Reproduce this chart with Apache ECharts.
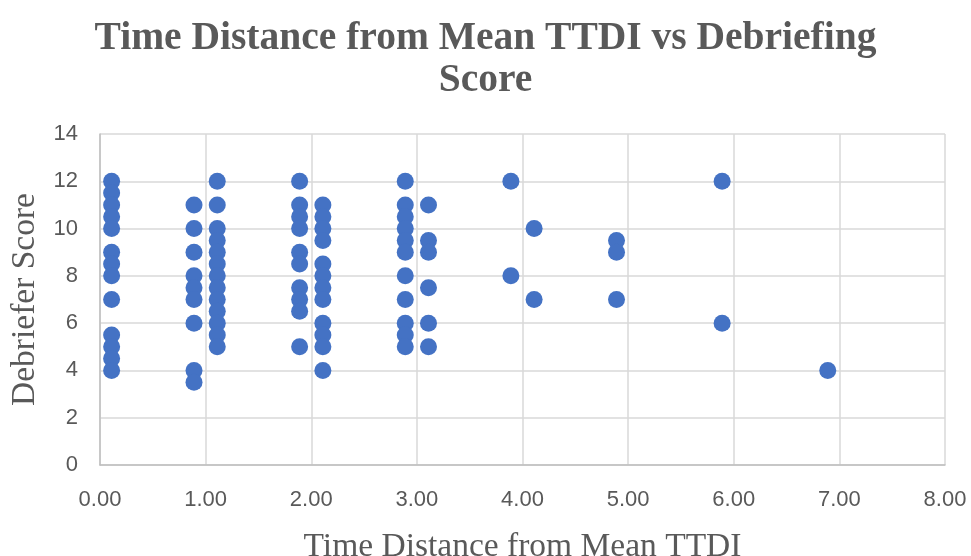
<!DOCTYPE html>
<html>
<head>
<meta charset="utf-8">
<script src="https://cdn.jsdelivr.net/npm/echarts@6/dist/echarts.min.js"></script>
<style>html,body{margin:0;padding:0;background:#fff;}#c{width:971px;height:556px;}</style>
</head>
<body>
<div id="c"></div>
<script>
const titleText = "Time Distance from Mean TTDI vs Debriefing\nScore";
const xAxisName = "Time Distance from Mean TTDI";
const yAxisName = "Debriefer Score";
const distances = [0.11, 0.89, 1.11, 1.89, 2.11, 2.89, 3.11, 3.89, 4.11, 4.89, 5.89, 6.89];
const scoresByDistance = [
  [12, 11.5, 11, 10.5, 10, 9, 8.5, 8, 7, 5.5, 5, 4.5, 4],
  [11, 10, 9, 8, 7.5, 7, 6, 4, 3.5],
  [12, 11, 10, 9.5, 9, 8.5, 8, 7.5, 7, 6.5, 6, 5.5, 5],
  [12, 11, 10.5, 10, 9, 8.5, 7.5, 7, 6.5, 5],
  [11, 10.5, 10, 9.5, 8.5, 8, 7.5, 7, 6, 5.5, 5, 4],
  [12, 11, 10.5, 10, 9.5, 9, 8, 7, 6, 5.5, 5],
  [11, 9.5, 9, 7.5, 6, 5],
  [12, 8],
  [10, 7],
  [9.5, 9, 7],
  [12, 6],
  [4]
];
const points = [];
distances.forEach((d, i) => scoresByDistance[i].forEach(s => points.push([d, s])));

const chart = echarts.init(document.getElementById('c'));
chart.setOption({
  animation: false,
  title: {
    text: titleText,
    left: 'center',
    top: 13,
    textStyle: {fontFamily: 'Liberation Serif', fontWeight: 'bold', fontSize: 39.5, color: '#595959', lineHeight: 42}
  },
  grid: {left: 100, right: 26, top: 134, bottom: 91, containLabel: false, outerBoundsMode: 'none'},
  xAxis: {
    type: 'value', min: 0, max: 8, interval: 1,
    name: xAxisName, nameLocation: 'middle', nameGap: 65,
    nameTextStyle: {fontFamily: 'Liberation Serif', fontSize: 33.5, color: '#595959'},
    axisLine: {show: true, lineStyle: {color: '#bfbfbf', width: 1.5}},
    axisTick: {show: false},
    axisLabel: {formatter: v => v.toFixed(2), fontFamily: 'Liberation Sans', fontSize: 22, color: '#595959', margin: 24},
    splitLine: {show: true, lineStyle: {color: '#d9d9d9', width: 1.5}}
  },
  yAxis: {
    type: 'value', min: 0, max: 14, interval: 2,
    name: yAxisName, nameLocation: 'middle', nameGap: 50,
    nameTextStyle: {fontFamily: 'Liberation Serif', fontSize: 33.5, color: '#595959'},
    axisLine: {show: true, lineStyle: {color: '#bfbfbf', width: 1.5}},
    axisTick: {show: false},
    axisLabel: {fontFamily: 'Liberation Sans', fontSize: 22, color: '#595959', margin: 22},
    splitLine: {show: true, lineStyle: {color: '#d9d9d9', width: 1.5}}
  },
  series: [{
    type: 'scatter',
    data: points,
    symbolSize: 17,
    itemStyle: {color: '#4472C4', opacity: 1}
  }]
});
</script>
</body>
</html>
